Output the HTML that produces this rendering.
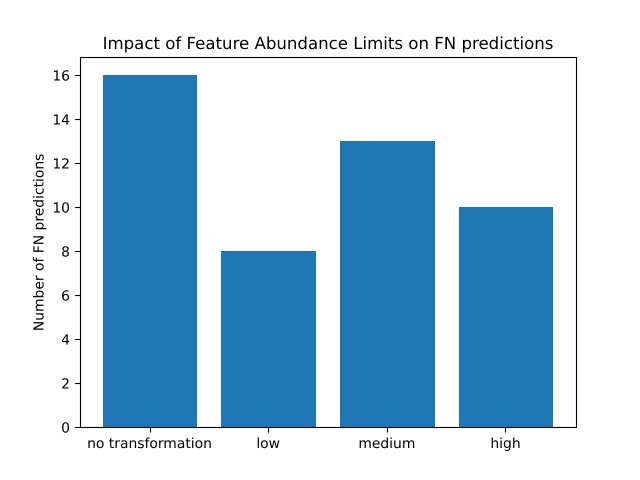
<!DOCTYPE html>
<html>
<head>
<meta charset="utf-8">
<style>
html,body{margin:0;padding:0;background:#fff;width:640px;height:480px;overflow:hidden}
svg{display:block}
text{font-family:"DejaVu Sans",sans-serif;fill:#000;text-rendering:geometricPrecision}
</style>
</head>
<body>
<svg id="chart" width="640" height="480" viewBox="0 0 640 480" xmlns="http://www.w3.org/2000/svg"></svg>
<script>
const categories = ["no transformation", "low", "medium", "high"];
const fnCounts = [16, 8, 13, 10];
const yTicks = [0, 2, 4, 6, 8, 10, 12, 14, 16];
const yMax = 16.8;

const svg = document.getElementById('chart');
const NS = 'http://www.w3.org/2000/svg';
const plot = {left: 80, right: 576, top: 57.6, bottom: 427.2};
const barWidthUnits = 0.8;
const xPad = barWidthUnits / 2 + 0.05 * (categories.length - 1 + barWidthUnits);
const xMin = -xPad;
const xMax = categories.length - 1 + xPad;
const lineWidth = 1.11;
const tickLength = 4.86;
const tickFont = 13.89;

function xScale(v) {
  return plot.left + (v - xMin) / (xMax - xMin) * (plot.right - plot.left);
}
function yScale(v) {
  return plot.bottom - v / yMax * (plot.bottom - plot.top);
}
function snap(v) {
  return Math.floor(v) + 0.5;
}
function make(tag, attrs, text) {
  const el = document.createElementNS(NS, tag);
  for (const k in attrs) el.setAttribute(k, attrs[k]);
  if (text !== undefined) el.textContent = text;
  svg.appendChild(el);
  return el;
}

const bg = make('rect', {x: plot.left, y: plot.top, width: plot.right - plot.left, height: plot.bottom - plot.top, fill: '#fff'});



fnCounts.forEach(function (v, i) {
  const x0 = Math.round(xScale(i - barWidthUnits / 2));
  const x1 = Math.round(xScale(i + barWidthUnits / 2));
  const yTop = Math.round(yScale(v));
  const yBase = Math.round(yScale(0));
  const bar = make('rect', {x: x0, y: yTop, width: x1 - x0, height: yBase - yTop, fill: '#1f77b4'});
  
  
});

yTicks.forEach(function (t) {
  const y = snap(yScale(t));
  const tick = make('line', {x1: plot.left - tickLength, x2: plot.left, y1: y, y2: y, stroke: '#000', 'stroke-width': lineWidth});
  
  
  const label = make('text', {x: plot.left - 10, y: y + 5, 'text-anchor': 'end', 'font-size': tickFont}, String(t));
  
  
});

categories.forEach(function (c, i) {
  const x = snap(xScale(i));
  const tick = make('line', {x1: x, x2: x, y1: snap(plot.bottom), y2: plot.bottom + tickLength + 0.5, stroke: '#000', 'stroke-width': lineWidth});
  
  
  const label = make('text', {x: xScale(i) - 0.5, y: 448, 'text-anchor': 'middle', 'font-size': tickFont}, c);
  
  
});

const frame = make('rect', {x: snap(plot.left), y: snap(plot.top), width: snap(plot.right) - snap(plot.left), height: snap(plot.bottom) - snap(plot.top), fill: 'none', stroke: '#000', 'stroke-width': lineWidth});



const title = make('text', {x: 328, y: 49, 'text-anchor': 'middle', 'font-size': 16.6}, 'Impact of Feature Abundance Limits on FN predictions');



const yTitle = make('text', {x: 0, y: 0, 'text-anchor': 'middle', 'font-size': tickFont, transform: 'translate(43.5 242.4) rotate(-90)'}, 'Number of FN predictions');


</script>
</body>
</html>
